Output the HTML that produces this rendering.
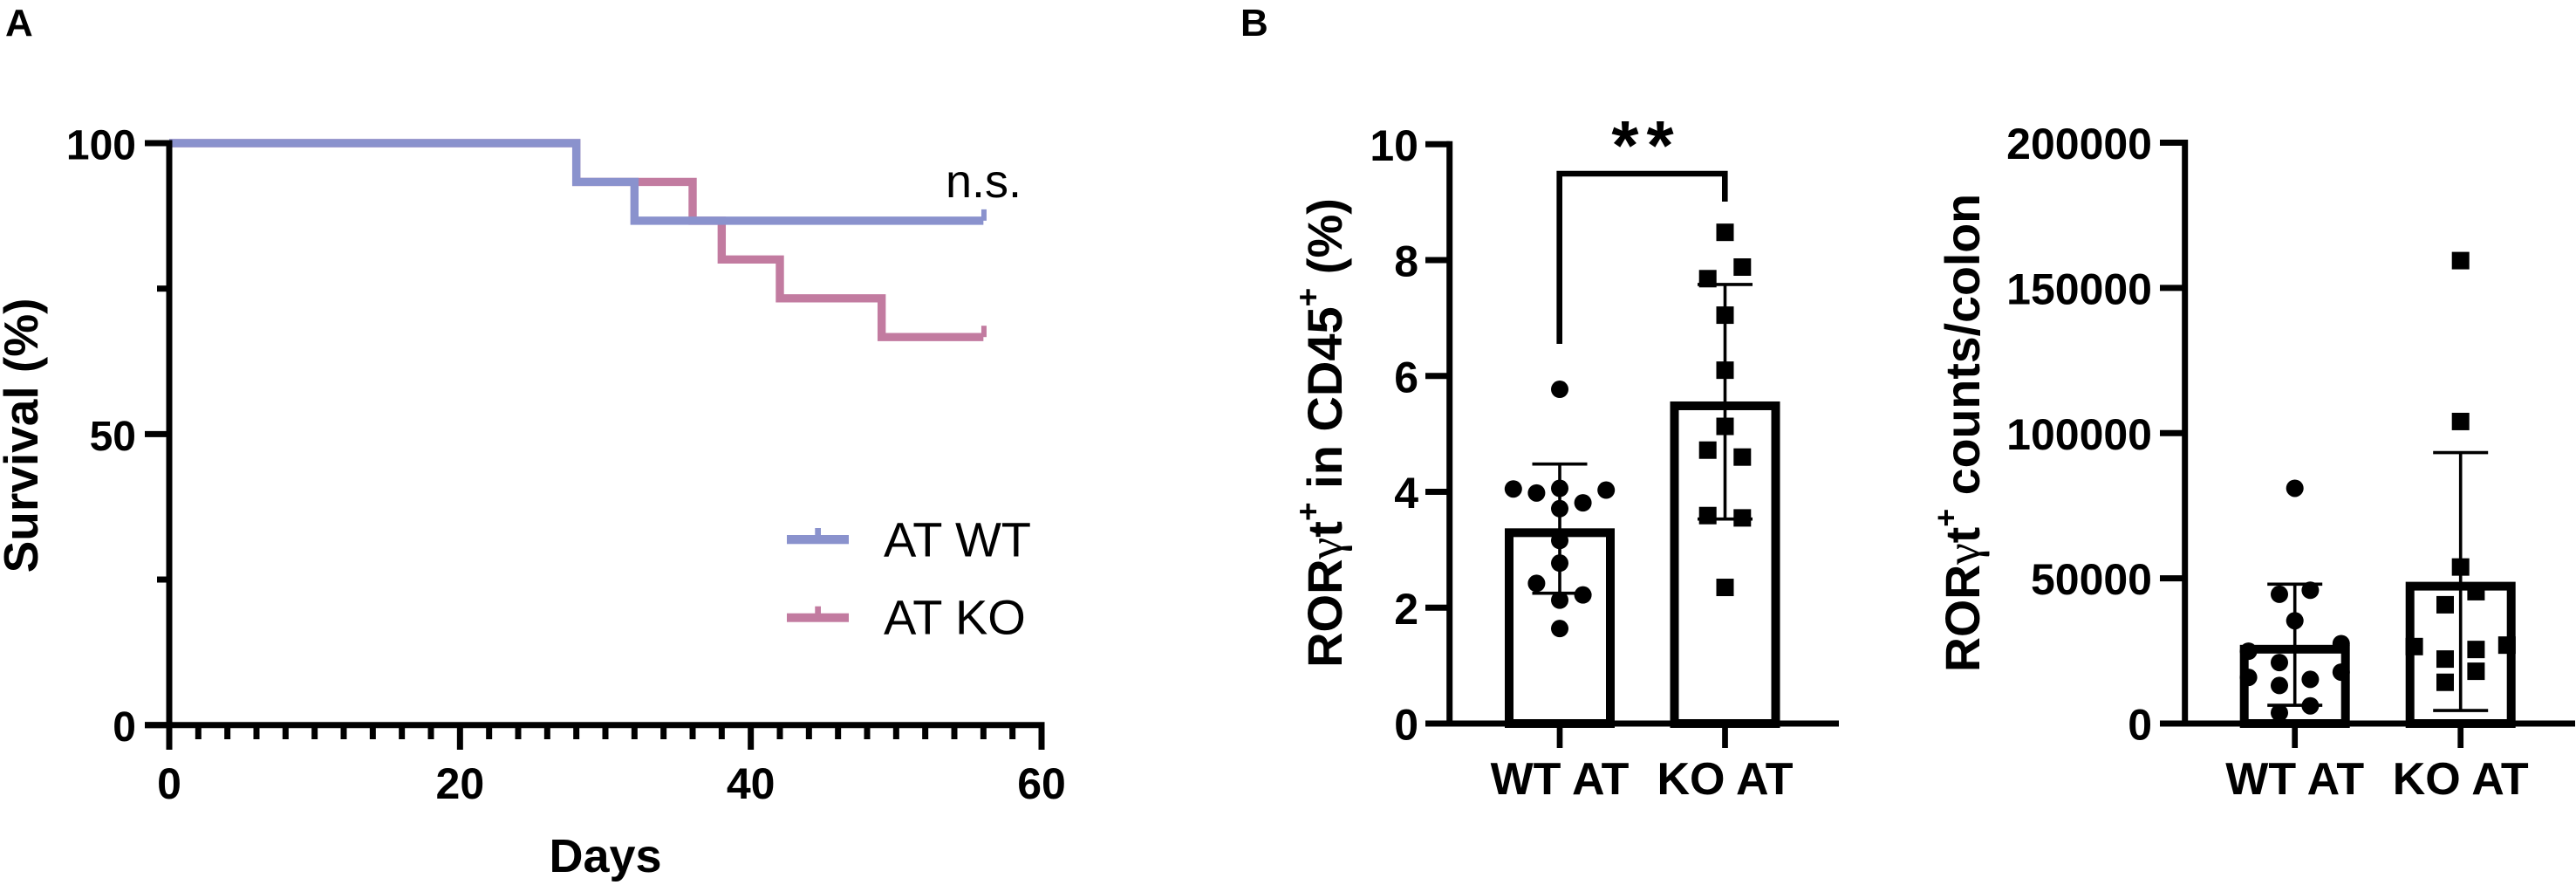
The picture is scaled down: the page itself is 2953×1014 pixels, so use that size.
<!DOCTYPE html>
<html lang="en">
<head>
<meta charset="utf-8">
<title>Survival and RORγt+ cell charts</title>
<style>
html,body{margin:0;padding:0;background:#fff;}
svg{display:block;font-family:"Liberation Sans",Arial,sans-serif;fill:#000;}
.tick-label{font-size:50px;font-weight:700;}
.group-label{font-size:52px;font-weight:700;}
.title{font-weight:700;}
</style>
</head>
<body>
<svg id="figure" xmlns="http://www.w3.org/2000/svg" width="2953" height="1014" viewBox="0 0 2953 1014">
  <rect width="2953" height="1014" fill="#fff"/>
  <text x="6" y="41" font-size="44" font-weight="700">A</text>
  <text x="1422" y="41" font-size="44" font-weight="700">B</text>

  <g id="survival"></g>
  <text class="title" font-size="55" text-anchor="middle" transform="translate(43,499) rotate(-90)">Survival (%)</text>
  <text class="title" font-size="54" text-anchor="middle" x="694" y="999">Days</text>
  <text font-size="54" x="1084" y="226">n.s.</text>

  <g>
    <g>
      <rect x="902" y="613" width="71" height="10.3" fill="#8A92CD"/>
      <rect x="934.3" y="605" width="6.7" height="9" fill="#8A92CD"/>
      <text x="1013" y="637.3" font-size="56">AT WT</text>
    </g>
    <g>
      <rect x="902" y="702.7" width="71" height="10" fill="#C27BA0"/>
      <rect x="934.3" y="694.7" width="6.7" height="9" fill="#C27BA0"/>
      <text x="1013" y="726.7" font-size="56">AT KO</text>
    </g>
  </g>

  <g id="percent"></g>
  <text class="title" font-size="56" text-anchor="middle" transform="translate(1538,496) rotate(-90)">ROR<tspan font-family="Liberation Serif" font-weight="400">γ</tspan>t<tspan dy="-26" font-size="37">+</tspan><tspan dy="26"> in CD45</tspan><tspan dy="-26" font-size="37">+</tspan><tspan dy="26"> (%)</tspan></text>
  <g>
    <path d="M1787.7 394V199H1977.3V231" fill="none" stroke="#000" stroke-width="6.6"/>
    <text x="1887.5" y="194" font-size="80" font-weight="700" letter-spacing="9" text-anchor="middle">**</text>
  </g>

  <g id="counts"></g>
  <text class="title" font-size="55.5" text-anchor="middle" transform="translate(2269,496) rotate(-90)">ROR<tspan font-family="Liberation Serif" font-weight="400">γ</tspan>t<tspan dy="-26" font-size="36">+</tspan><tspan dy="26"> counts/colon</tspan></text>
</svg>

<script>
/* ---------- Survival data ---------- */
const survivalTicksY = [0, 50, 100];
const survivalMinorTicksY = [25, 75];
const survivalTicksX = [0, 20, 40, 60];
const wtDays = [0, 28, 32, 56];
const wtSurvival = [100, 93.33, 86.67, 86.67];
const koDays = [0, 28, 36, 38, 42, 49, 56];
const koSurvival = [100, 93.33, 86.67, 80, 73.33, 66.67, 66.67];

/* ---------- RORgt percent data ---------- */
const groupLabels = ['WT AT', 'KO AT'];
const percentTicks = [0, 2, 4, 6, 8, 10];
const percentMeans = [3.37, 5.56];
const percentErrHigh = [4.48, 7.58];
const percentErrLow = [2.25, 3.53];
const percentWt = [5.77, 4.05, 3.98, 4.06, 3.81, 4.03, 3.71, 3.16, 2.77, 2.42, 2.22, 2.13, 1.64];
const percentWtSlots = [0, -2, -1, 0, 1, 2, 0, 0, 0, -1, 1, 0, 0];
const percentKo = [8.48, 7.88, 7.68, 7.05, 6.10, 5.13, 4.72, 4.60, 3.59, 3.55, 2.35];
const percentKoSlots = [0, 1, -1, 0, 0, 0, -1, 1, -1, 1, 0];

/* ---------- RORgt counts data ---------- */
const countTicks = [0, 50000, 100000, 150000, 200000];
const countMeans = [27100, 48800];
const countErrHigh = [48000, 93300];
const countErrLow = [6300, 4500];
const countWt = [81000, 44500, 45900, 35400, 24900, 27500, 21000, 15900, 17700, 13100, 15200, 6100, 3700];
const countWtSlots = [0, -1, 1, 0, -3, 3, -1, -3, 3, -1, 1, 1, -1];
const countKo = [159400, 104000, 53900, 45400, 40900, 26500, 27000, 25500, 22200, 18000, 14200];
const countKoSlots = [0, 0, 0, 1, -1, -3, 3, 1, -1, 1, -1];

const NS = 'http://www.w3.org/2000/svg';
function add(parent, tag, attrs, text) {
  const n = document.createElementNS(NS, tag);
  for (const k in attrs) n.setAttribute(k, attrs[k]);
  if (text !== undefined) n.textContent = text;
  parent.appendChild(n);
  return n;
}

/* ---------- Panel A ---------- */
(function () {
  const g = document.getElementById('survival');
  const x = d => 194 + d * 1000 / 60;
  const y = v => 830.7 - v * 6.667;
  const axisW = 7;

  function drawSeries(days, surv, color, name) {
    let pts = '';
    days.forEach((d, i) => {
      if (i > 0) pts += x(d) + ',' + y(surv[i - 1]) + ' ';
      pts += x(d) + ',' + y(surv[i]) + ' ';
    });
    const line = add(g, 'polyline', { points: pts.trim(), fill: 'none', stroke: color, 'stroke-width': 9.4, 'stroke-linejoin': 'miter' });
    
    
    const last = days.length - 1;
    const censor = add(g, 'line', { x1: x(days[last]) + 0.6, x2: x(days[last]) + 0.6, y1: y(surv[last]), y2: y(surv[last]) - 13, stroke: color, 'stroke-width': 6 });
    
    
  }
  drawSeries(koDays, koSurvival, '#C27BA0', 'at-ko');
  drawSeries(wtDays, wtSurvival, '#8A92CD', 'at-wt');

  const yAxis = add(g, 'line', { x1: x(0), x2: x(0), y1: y(100) - 3.5, y2: 859, stroke: '#000', 'stroke-width': axisW });
  
  
  const xAxis = add(g, 'line', { x1: 166, x2: x(60) + 3.5, y1: y(0), y2: y(0), stroke: '#000', 'stroke-width': axisW });
  
  

  survivalTicksY.forEach(v => {
    const t = add(g, 'line', { x1: 166, x2: x(0), y1: y(v), y2: y(v), stroke: '#000', 'stroke-width': axisW });
    
    
    const l = add(g, 'text', { x: 156, y: y(v) + 18.5, 'text-anchor': 'end', class: 'tick-label', style: 'font-size:48px' }, String(v));
    
    
  });
  survivalMinorTicksY.forEach(v => {
    const t = add(g, 'line', { x1: 180, x2: x(0), y1: y(v), y2: y(v), stroke: '#000', 'stroke-width': axisW });
    
    
  });
  for (let d = 2; d < 60; d += 2) {
    if (d % 20 === 0) continue;
    const t = add(g, 'line', { x1: x(d), x2: x(d), y1: y(0), y2: 847, stroke: '#000', 'stroke-width': axisW });
    
    
  }
  survivalTicksX.forEach(d => {
    const t = add(g, 'line', { x1: x(d), x2: x(d), y1: y(0), y2: 859, stroke: '#000', 'stroke-width': axisW });
    
    
    const l = add(g, 'text', { x: x(d), y: 915, 'text-anchor': 'middle', class: 'tick-label' }, String(d));
    
    
  });
})();

/* ---------- Panels B ---------- */
function barPanel(cfg) {
  const g = document.getElementById(cfg.id);
  const y = v => cfg.y0 - v * (cfg.y0 - cfg.yTop) / cfg.max;

  const yAxis = add(g, 'line', { x1: cfg.axisX, x2: cfg.axisX, y1: cfg.yTop - 3.5, y2: cfg.y0, stroke: '#000', 'stroke-width': 7 });
  
  

  cfg.ticks.forEach(v => {
    const t = add(g, 'line', { x1: cfg.tickLeft, x2: cfg.axisX, y1: y(v), y2: y(v), stroke: '#000', 'stroke-width': 7 });
    
    
    const l = add(g, 'text', { x: cfg.labelRight, y: y(v) + 18.5, 'text-anchor': 'end', class: 'tick-label' }, String(v));
    
    
  });

  cfg.centers.forEach((cx, i) => {
    const top = y(cfg.means[i]);
    const bar = add(g, 'rect', { x: cx - 58, y: top + 5, width: 116, height: cfg.y0 - top - 5, fill: 'none', stroke: '#000', 'stroke-width': 10 });
    
    

    const stem = add(g, 'line', { x1: cx, x2: cx, y1: y(cfg.hi[i]), y2: y(cfg.lo[i]), stroke: '#000', 'stroke-width': 3.6 });
    
    
    [cfg.hi[i], cfg.lo[i]].forEach(e => {
      const cap = add(g, 'line', { x1: cx - 31.5, x2: cx + 31.5, y1: y(e), y2: y(e), stroke: '#000', 'stroke-width': 3.6 });
      
      
    });

    const tick = add(g, 'line', { x1: cx, x2: cx, y1: cfg.y0, y2: 857, stroke: '#000', 'stroke-width': 6.7 });
    
    
    const lab = add(g, 'text', { x: cx, y: 910, 'text-anchor': 'middle', class: 'group-label' }, groupLabels[i]);
    
    
  });

  const xAxis = add(g, 'line', { x1: cfg.tickLeft, x2: cfg.axisEnd, y1: cfg.y0, y2: cfg.y0, stroke: '#000', 'stroke-width': 7 });
  
  

  cfg.wt.forEach((v, i) => {
    const c = add(g, 'circle', { cx: cfg.centers[0] + cfg.wtSlots[i] * cfg.wtStep, cy: y(v), r: 10, fill: '#000' });
    
    
  });
  cfg.ko.forEach((v, i) => {
    const s = add(g, 'rect', { x: cfg.centers[1] + cfg.koSlots[i] * cfg.koStep - 10, y: y(v) - 10, width: 20, height: 20, fill: '#000' });
    
    
  });
}

barPanel({
  id: 'percent', y0: 829, yTop: 165.3, max: 10, axisX: 1661.7, tickLeft: 1634, labelRight: 1626, axisEnd: 2108,
  centers: [1788, 1977.5], ticks: percentTicks, means: percentMeans, hi: percentErrHigh, lo: percentErrLow,
  wt: percentWt, wtSlots: percentWtSlots, wtStep: 26.6, ko: percentKo, koSlots: percentKoSlots, koStep: 19.8
});
barPanel({
  id: 'counts', y0: 829, yTop: 163.5, max: 200000, axisX: 2504.7, tickLeft: 2476, labelRight: 2467, axisEnd: 2952,
  centers: [2630.7, 2820.7], ticks: countTicks, means: countMeans, hi: countErrHigh, lo: countErrLow,
  wt: countWt, wtSlots: countWtSlots, wtStep: 17.7, ko: countKo, koSlots: countKoSlots, koStep: 17.7
});
</script>
</body>
</html>
